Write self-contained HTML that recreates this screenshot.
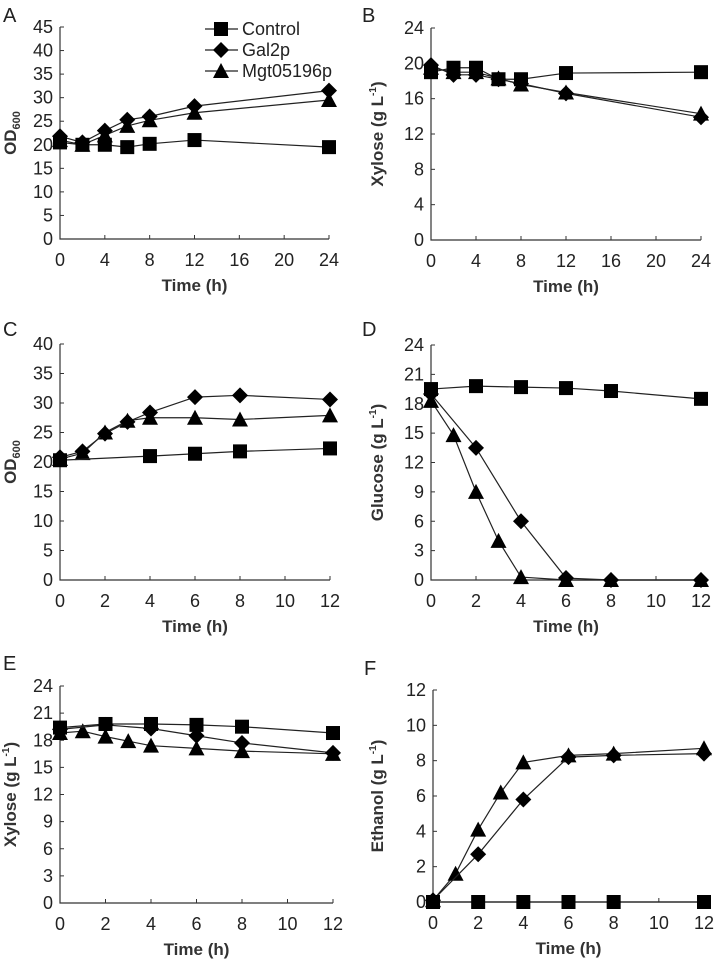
<!DOCTYPE html>
<html><head><meta charset="utf-8"><style>
html,body{margin:0;padding:0;background:#fff;}
svg{display:block;font-family:"Liberation Sans",Arial,sans-serif;}
</style></head><body>
<svg id="fig" width="714" height="959" viewBox="0 0 714 959" xmlns="http://www.w3.org/2000/svg"></svg>
<script>
// ---- data ----
const tA = [0,2,4,6,8,12,24];
const aControl = [20.5,20,20,19.5,20.2,21,19.5];
const aGal2 = [21.8,20.5,23,25.3,26,28.2,31.5];
const aMgt = [21,20,22,24,25.2,26.8,29.5];

const bControl = [19,19.5,19.5,18.2,18.2,18.9,19];
const bGal2 = [19.8,18.7,18.7,18.2,17.7,16.6,13.9];
const bMgt = [19.5,19,19,18.3,17.6,16.7,14.3];

const tCtrl = [0,4,6,8,12];
const tEven = [0,2,4,6,8,12];
const tFine = [0,1,2,3,4,6,8,12];
const cControl = [20.3,21,21.4,21.8,22.3];
const cGal2 = [20.8,21.8,24.8,26.8,28.4,31,31.3,30.6];
const cMgt = [20.5,21.5,25,27,27.5,27.5,27.2,27.9];

const dControl = [19.5,19.8,19.7,19.6,19.3,18.5];
const dGal2 = [19,13.5,6,0.2,0,0];
const dMgt = [18.3,14.8,9,4,0.3,0,0,0];

const eControl = [19.4,19.8,19.8,19.7,19.5,18.8];
const eGal2 = [19.2,19.7,19.3,18.5,17.7,16.6];
const eMgt = [18.8,19,18.4,17.9,17.4,17.1,16.8,16.5];

const fControl = [0,0,0,0,0,0];
const fGal2 = [0.1,2.7,5.8,8.2,8.3,8.4];
const fMgt = [0.1,1.6,4.1,6.2,7.9,8.3,8.4,8.7];

const xTicks24 = [0,4,8,12,16,20,24];
const xTicks12 = [0,2,4,6,8,10,12];
const yTicks45 = [0,5,10,15,20,25,30,35,40,45];
const yTicks40 = [0,5,10,15,20,25,30,35,40];
const yTicks24by4 = [0,4,8,12,16,20,24];
const yTicks24by3 = [0,3,6,9,12,15,18,21,24];
const yTicks12 = [0,2,4,6,8,10,12];

const NS = "http://www.w3.org/2000/svg";
const svg = document.getElementById('fig');
function el(tag, attrs, parent){
  const e = document.createElementNS(NS, tag);
  for (const k in attrs) e.setAttribute(k, attrs[k]);
  (parent||svg).appendChild(e);
  return e;
}
function marker(g, shape, x, y){
  let m;
  if (shape==='square') m = el('rect',{x:x-7,y:y-7,width:14,height:14,fill:'#000'},g);
  else if (shape==='diamond') m = el('polygon',{points:`${x},${y-8} ${x+8},${y} ${x},${y+8} ${x-8},${y}`,fill:'#000'},g);
  else m = el('polygon',{points:`${x},${y-8} ${x+8},${y+7} ${x-8},${y+7}`,fill:'#000'},g);
  return m;
}
function panel(p){
  const g = el('g',{});
  
  
  const xs = v => p.x0 + (v - 0)/(p.xmax) * (p.x1 - p.x0);
  const ys = v => p.y0 - v/(p.ymax) * (p.y0 - p.y1);
  const lt = el('text',{x:p.lx,y:p.ly,'font-size':20,fill:'#222'},g);
  lt.textContent = p.letter;
  
  
  const ax = el('path',{d:`M${p.x0},${p.y1} V${p.y0} H${p.x1}`,stroke:'#333','stroke-width':1.2,fill:'none'},g);
  
  
  p.yt.forEach(v=>{
    const y = ys(v);
    el('line',{x1:p.x0,x2:p.x0+4,y1:y,y2:y,stroke:'#333','stroke-width':1},g);
    const t = el('text',{x:p.x0-7,y:y+6,'font-size':18,'text-anchor':'end',fill:'#222'},g);
    t.textContent = v;
    
    
  });
  p.xt.forEach(v=>{
    const x = xs(v);
    el('line',{x1:x,x2:x,y1:p.y0,y2:p.y0-4,stroke:'#333','stroke-width':1},g);
    const t = el('text',{x:x,y:p.y0+27,'font-size':18,'text-anchor':'middle',fill:'#222'},g);
    t.textContent = v;
    
    
  });
  const xt = el('text',{x:(p.x0+p.x1)/2,y:p.y0+52,'font-size':17,'font-weight':'bold','text-anchor':'middle',fill:'#333'},g);
  xt.textContent = 'Time (h)';
  
  
  const cy = (p.y0+p.y1)/2;
  const yt = el('text',{x:0,y:0,'font-size':17,'font-weight':'bold','text-anchor':'middle',fill:'#333',transform:`translate(${p.tx},${cy}) rotate(-90)`},g);
  
  
  if (p.ylabel==='OD') {
    yt.innerHTML = 'OD<tspan font-size="11" dy="4">600</tspan>';
  } else {
    yt.innerHTML = p.ylabel + ' (g L<tspan font-size="10" dy="-7">-1</tspan><tspan dy="7">)</tspan>';
  }
  p.series.forEach(s=>{
    const sg = el('g',{},g);
    
    
    const pts = s.t.map((t,i)=>`${xs(t)},${ys(s.v[i])}`).join(' ');
    const pl = el('polyline',{points:pts,fill:'none',stroke:'#222','stroke-width':1.2},sg);
    
    
    s.t.forEach((t,i)=>{
      const m = marker(sg, s.shape, xs(t), ys(s.v[i]));
      
      
    });
  });
}
const S = (name,shape,t,v)=>({name,shape,t,v});
panel({letter:'A',lx:3,ly:22,x0:60,x1:329,y0:239,y1:27,xmax:24,ymax:45,xt:xTicks24,yt:yTicks45,ylabel:'OD',tx:16,
  series:[S('mgt05196p','triangle',tA,aMgt),S('gal2p','diamond',tA,aGal2),S('control','square',tA,aControl)]});
panel({letter:'B',lx:362,ly:22,x0:431,x1:701,y0:240,y1:28,xmax:24,ymax:24,xt:xTicks24,yt:yTicks24by4,ylabel:'Xylose',tx:383,
  series:[S('mgt05196p','triangle',tA,bMgt),S('gal2p','diamond',tA,bGal2),S('control','square',tA,bControl)]});
panel({letter:'C',lx:3,ly:336,x0:60,x1:330,y0:580,y1:344,xmax:12,ymax:40,xt:xTicks12,yt:yTicks40,ylabel:'OD',tx:16,
  series:[S('mgt05196p','triangle',tFine,cMgt),S('gal2p','diamond',tFine,cGal2),S('control','square',tCtrl,cControl)]});
panel({letter:'D',lx:362,ly:336,x0:431,x1:701,y0:580,y1:345,xmax:12,ymax:24,xt:xTicks12,yt:yTicks24by3,ylabel:'Glucose',tx:383,
  series:[S('mgt05196p','triangle',tFine,dMgt),S('gal2p','diamond',tEven,dGal2),S('control','square',tEven,dControl)]});
panel({letter:'E',lx:3,ly:670,x0:60,x1:333,y0:903,y1:686,xmax:12,ymax:24,xt:xTicks12,yt:yTicks24by3,ylabel:'Xylose',tx:16,
  series:[S('mgt05196p','triangle',tFine,eMgt),S('gal2p','diamond',tEven,eGal2),S('control','square',tEven,eControl)]});
panel({letter:'F',lx:364,ly:675,x0:433,x1:704,y0:902,y1:690,xmax:12,ymax:12,xt:xTicks12,yt:yTicks12,ylabel:'Ethanol',tx:383,
  series:[S('mgt05196p','triangle',tFine,fMgt),S('gal2p','diamond',tEven,fGal2),S('control','square',tEven,fControl)]});

const leg = el('g',{});


const legNames = ['Control','Gal2p','Mgt05196p'];
const legShapes = ['square','diamond','triangle'];
legNames.forEach((n,i)=>{
  const y = 29 + i*21;
  const eg = el('g',{},leg);
  
  
  el('line',{x1:205,x2:238,y1:y,y2:y,stroke:'#222','stroke-width':1.2},eg);
  marker(eg, legShapes[i], 221, y);
  const t = el('text',{x:242,y:y+6,'font-size':18,fill:'#222'},eg);
  t.textContent = n;
});
</script>
</body></html>
